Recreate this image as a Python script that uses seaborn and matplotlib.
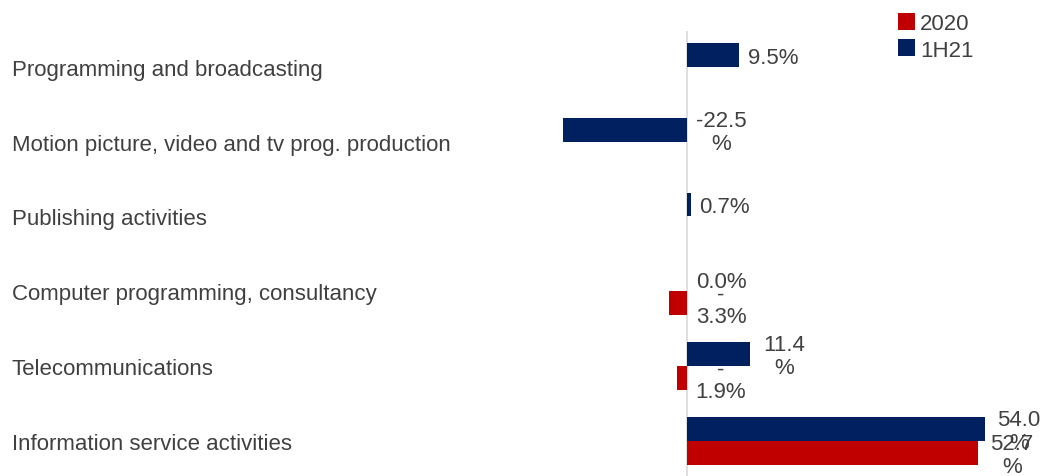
import numpy as np
import pandas as pd
import matplotlib
matplotlib.use("Agg")
import matplotlib.pyplot as plt
from matplotlib.patches import Patch
import seaborn as sns

# Growth by ICT sub-sector
categories = [
    "Programming and broadcasting",
    "Motion picture, video and tv prog. production",
    "Publishing activities",
    "Computer programming, consultancy",
    "Telecommunications",
    "Information service activities",
]
growth_2020 = [np.nan, np.nan, np.nan, -3.3, -1.9, 52.7]
growth_1h21 = [9.5, -22.5, 0.7, 0.0, 11.4, 54.0]
periods = ["1H21", "2020"]
colors = {"2020": "#C00000", "1H21": "#002060"}

rows = []
for cat, v20, v21 in zip(categories, growth_2020, growth_1h21):
    if not np.isnan(v21):
        rows.append({"category": cat, "period": "1H21", "value": v21})
    if not np.isnan(v20):
        rows.append({"category": cat, "period": "2020", "value": v20})
df = pd.DataFrame(rows)

sns.set_style("white")
plt.rcParams["font.family"] = ["Liberation Sans", "DejaVu Sans"]
text_color = "#404040"

W, H, DPI = 1043, 477, 100
fig = plt.figure(figsize=(W / DPI, H / DPI), dpi=DPI)
ax_left, ax_top = 540, 32
ax = fig.add_axes([ax_left / W, 0, 1 - ax_left / W, 1 - ax_top / H])

sns.barplot(
    data=df, y="category", x="value", hue="period",
    order=categories, hue_order=periods, palette=colors,
    orient="h", width=0.64, saturation=1, errorbar=None,
    legend=False, linewidth=0, ax=ax,
)

px_per_unit = 5.52
zero_px = 687
ax.set_xlim((ax_left - zero_px) / px_per_unit, (W - zero_px) / px_per_unit)
ax.set_ylim(5.47, -0.48)

for s in ax.spines.values():
    s.set_visible(False)
ax.axvline(0, color="#d9d9d9", lw=1.2, zorder=0)
ax.set_xticks([])
ax.set_xlabel("")
ax.set_ylabel("")

pad_pt = (ax_left - 12) * 72 / DPI
ax.tick_params(axis="y", length=0, pad=pad_pt, labelsize=16, labelcolor=text_color)
for lbl in ax.get_yticklabels():
    lbl.set_horizontalalignment("left")


def wrap_label(v):
    s = f"{v:.1f}%"
    if len(s) <= 4:
        return s
    if v < 0 and len(s) <= 5:
        return "-\n" + s[1:]
    return s[:-1] + "\n%"


for container in ax.containers:
    for p in container.patches:
        v = p.get_width()
        if np.isnan(v):
            continue
        y = p.get_y() + p.get_height() / 2
        ax.annotate(
            wrap_label(v), xy=(max(v, 0), y), xytext=(24.5, -1.5),
            textcoords="offset points", ha="center", va="center",
            multialignment="center", fontsize=16, color=text_color,
            linespacing=1.1, annotation_clip=False,
        )

handles = [Patch(facecolor=colors[k], edgecolor="none") for k in ["2020", "1H21"]]
fig.legend(
    handles, ["2020", "1H21"], loc="upper left",
    bbox_to_anchor=(882 / W, 1 + 2 / H), frameon=False, fontsize=16,
    handlelength=0.8, handleheight=0.8, handletextpad=0.2,
    labelspacing=0.25, borderpad=0.2, labelcolor=text_color,
)

fig.savefig("out.png", dpi=DPI)
